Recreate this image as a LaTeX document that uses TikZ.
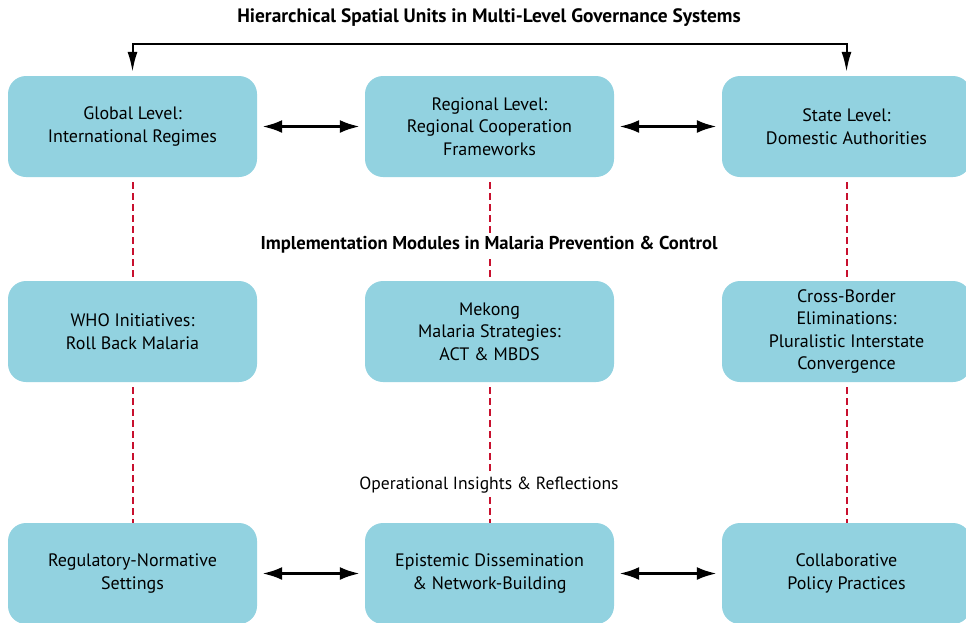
\documentclass[tikz,border=0pt]{standalone}
\usepackage{fontspec}
\setmainfont{PT Sans}
\usepackage{xcolor}
\usetikzlibrary{arrows.meta}
\definecolor{boxblue}{RGB}{146,210,224}
\definecolor{dashred}{RGB}{200,16,46}

\begin{document}
\begin{tikzpicture}[x=1pt,y=-1pt,
  level/.style={rectangle,rounded corners=18pt,fill=boxblue,minimum width=249pt,
    minimum height=101pt,align=center,font=\fontsize{18}{22.5}\selectfont},
  caption/.style={fill=white,inner sep=3pt,font=\fontsize{17.6}{20}\selectfont},
  link/.style={dashred,line width=2pt,dash pattern=on 7pt off 4pt,shorten <=5pt},
  both/.style={{Latex[length=20pt,width=13pt]}-{Latex[length=20pt,width=13pt]},
    line width=3pt,shorten <=5pt,shorten >=5pt}]
\clip (0,0) rectangle (966,622);

% top row: spatial levels
\node[level] (global) at (132.5,126.5) {Global Level:\\International Regimes};
\node[level] (regional) at (489.5,126.5) {Regional Level:\\Regional Cooperation\\Frameworks};
\node[level] (state) at (846.5,126.5) {State Level:\\Domestic Authorities};

% middle row: malaria modules
\node[level] (who) at (132.5,331.5) {WHO Initiatives:\\Roll Back Malaria};
\node[level] (mekong) at (489.5,331.5) {Mekong\\Malaria Strategies:\\ACT \& MBDS};
\node[level] (cross) at (846.5,331.5) {Cross-Border\\Eliminations:\\Pluralistic Interstate\\Convergence};

% bottom row: practices
\node[level] (norm) at (132.5,573.5) {Regulatory-Normative\\Settings};
\node[level] (episteme) at (489.5,573.5) {Epistemic Dissemination\\\& Network-Building};
\node[level] (collab) at (846.5,573.5) {Collaborative\\Policy Practices};

% vertical links
\draw[link] (global) -- (who);
\draw[link] (regional) -- (mekong);
\draw[link] (state) -- (cross);
\draw[link] (who) -- (norm);
\draw[link] (mekong) -- (episteme);
\draw[link] (cross) -- (collab);

% horizontal exchanges
\draw[both] (global) -- (regional);
\draw[both] (regional) -- (state);
\draw[both] (norm) -- (episteme);
\draw[both] (episteme) -- (collab);

% headings
\node[caption,font=\fontsize{19.4}{22}\selectfont\bfseries] (title) at (489,18)
  {Hierarchical Spatial Units in Multi-Level Governance Systems};
\node[caption,font=\fontsize{18.6}{22}\selectfont\bfseries] (modules) at (489,245)
  {Implementation Modules in Malaria Prevention \& Control};
\node[caption] (insights) at (489,485) {Operational Insights \& Reflections};

\draw[line width=2pt,{Latex[length=20pt,width=10pt]}-{Latex[length=20pt,width=10pt]},
  shorten <=4pt,shorten >=4pt] (global.north) -- ++(0,-32) -| (state.north);
\end{tikzpicture}
\end{document}
